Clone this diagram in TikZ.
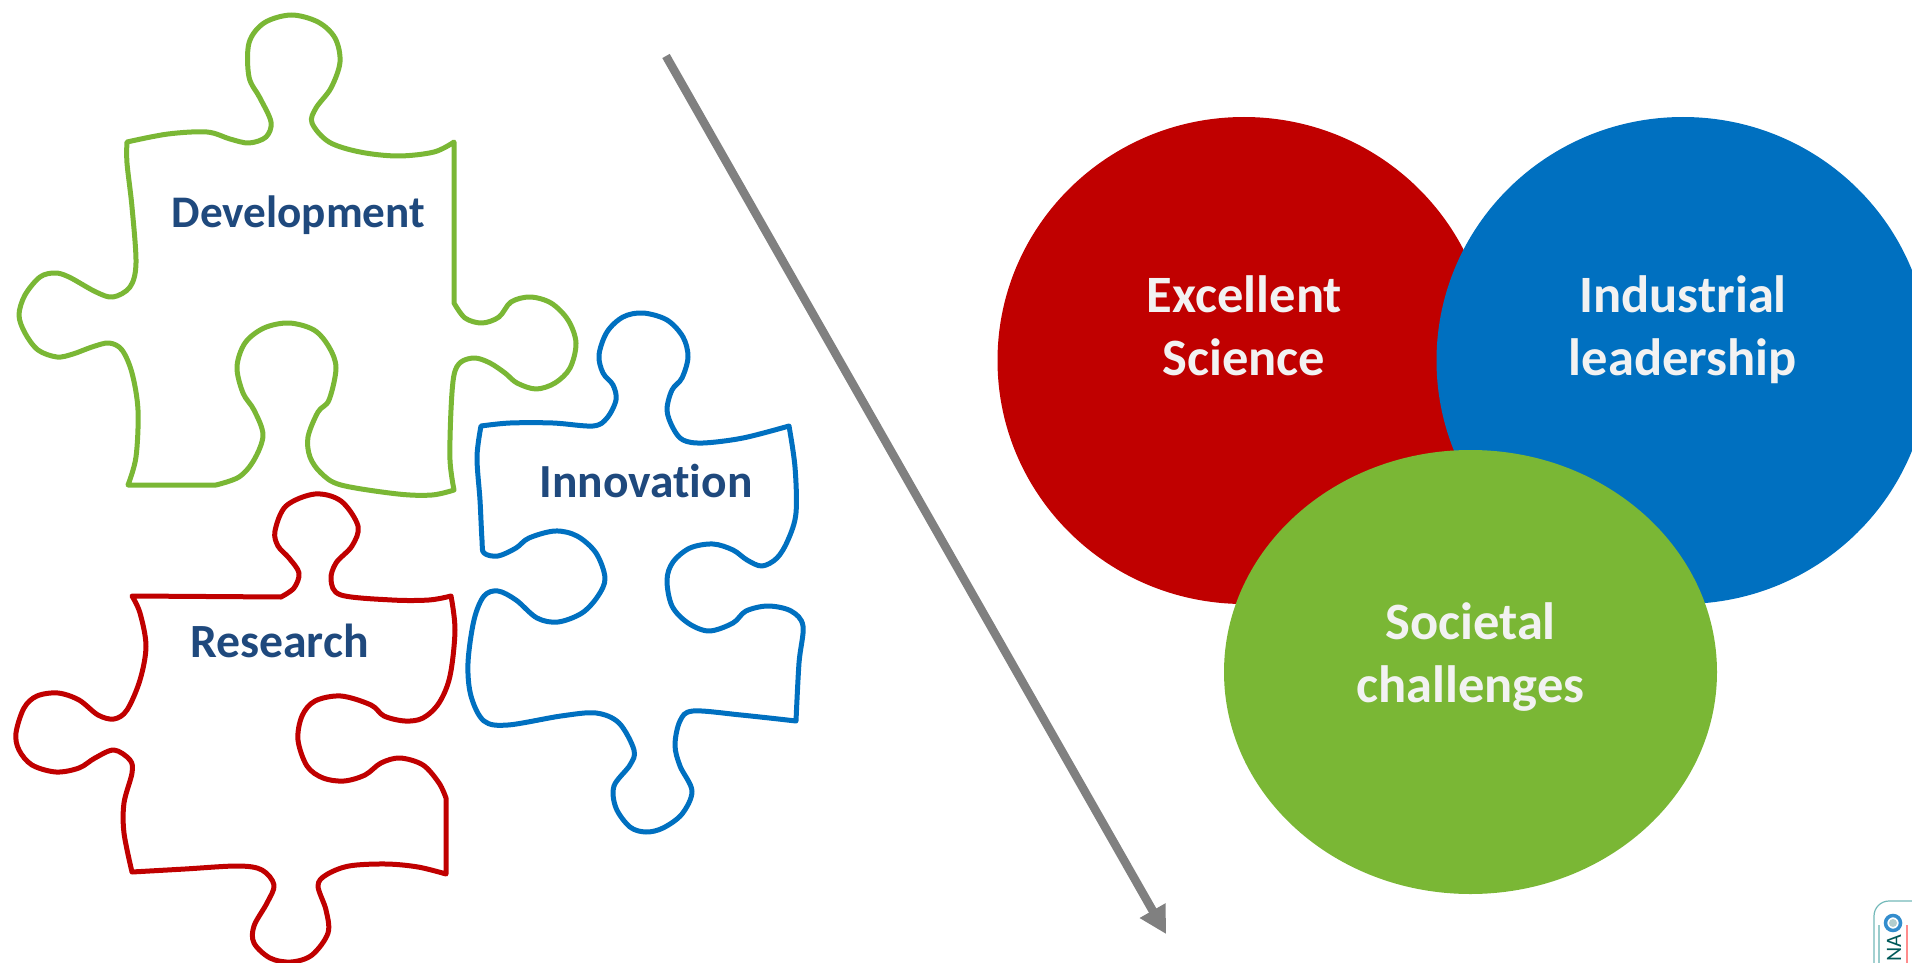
\documentclass[tikz,border=0pt]{standalone}
\usepackage{fontspec}
\setmainfont{Carlito}[Ligatures=NoCommon]
\usetikzlibrary{arrows.meta}
\definecolor{hred}{HTML}{C00000}
\definecolor{hblue}{HTML}{0070C0}
\definecolor{hgreen}{HTML}{7AB735}
\definecolor{navy}{HTML}{1F497D}
\definecolor{offwhite}{HTML}{F2F2F2}
\tikzset{
  piece/.style={line width=5pt,line join=round,line cap=round},
  curvy/.style={smooth,tension=0.55},
  pieceLabel/.style={anchor=base,text=navy,inner sep=0pt,font=\bfseries},
  blobLabel/.style={anchor=base,text=offwhite,inner sep=0pt,font=\fontsize{52.5}{62}\selectfont\bfseries}
}
\begin{document}
\begin{tikzpicture}[x=1pt,y=-1pt]
\useasboundingbox (0,0) rectangle (1912,963);
\clip (0,0) rectangle (1912,963);
% green piece
\draw[piece,hgreen] plot[curvy] coordinates {(127,142) (168,134) (207,132) (230,139) (249,143) (266,137) (271,122) (260,98) (249,77) (249,43) (264,23) (291,15) (318,22) (335,38) (340,62) (331,88) (316,108) (312,123) (329,142) (360,152) (398,156) (434,152) (454,142)}
 -- (454,303) -- plot[curvy] coordinates {(454,303) (465,318) (482,323) (499,317) (511,302) (530,297) (551,303) (568,320) (576,343) (570,368) (555,383) (536,389) (517,383) (505,373) (490,363) (475,358) (461,362) (454,375) (451,410) (450,460) (454,490)}
 -- plot[curvy] coordinates {(454,490) (432,495) (398,494) (341,485) (321,473) (310,457) (308,437) (318,412) (329,400) (336,368) (329,347) (314,330) (289,323) (264,328) (245,343) (237,367) (243,393) (254,410) (263,435) (254,460) (239,477) (216,485)}
 -- (128,485) -- plot[curvy] coordinates {(128,485) (136,457) (138,410) (132,373) (122,350) (109,343) (92,347) (73,354) (57,357) (38,350) (25,333) (19,315) (25,295) (40,277) (55,273) (69,277) (96,292) (113,297) (130,287) (136,263) (132,207) (127,163) (127,142)} -- cycle;
% blue piece
\draw[piece,hblue] plot[curvy] coordinates {(481,426) (510,423) (553,423) (593,426) (607,418) (616,400) (613,385) (603,373) (599,355) (607,332) (623,317) (643,313) (667,320) (683,337) (688,357) (682,378) (672,390) (667,410) (673,428) (683,440) (703,443) (743,438) (789,426)}
 -- plot[curvy] coordinates {(789,426) (795,467) (796,513) (788,540) (777,558) (762,566) (747,560) (733,550) (713,544) (690,548) (673,562) (667,580) (672,606) (688,623) (709,631) (733,623) (746,611) (768,606) (791,611) (803,626) (799,663) (796,721)}
 -- plot[curvy] coordinates {(796,721) (741,715) (693,711) (680,721) (675,745) (680,766) (692,791) (682,814) (663,828) (646,832) (630,827) (616,808) (614,786) (630,765) (634,750) (619,723) (596,713) (561,716) (508,725) (484,721) (471,696) (468,663) (474,620) (484,596) (498,591) (516,600) (537,618) (558,622) (582,613) (598,596) (605,578) (596,553) (577,536) (555,531) (529,538) (516,548) (498,556) (484,553) (482,540) (480,500) (477,457) (481,426)} -- cycle;
% red piece
\draw[piece,hred] (132,596) -- (281,597) -- plot[curvy] coordinates {(281,597) (294,588) (299,573) (289,558) (278,546) (275,531) (286,506) (315,494) (341,501) (358,526) (352,546) (336,563) (331,580) (341,595) (392,600) (429,600) (451,596)}
 -- plot[curvy] coordinates {(451,596) (455,630) (450,676) (439,703) (423,718) (405,721) (384,716) (371,705) (341,696) (315,701) (302,716) (298,740) (307,766) (323,778) (344,781) (365,775) (381,763) (400,758) (423,765) (439,783) (446,798)}
 -- (446,874) -- plot[curvy] coordinates {(446,874) (418,867) (386,864) (349,866) (326,875) (318,886) (326,910) (328,933) (312,955) (291,962) (270,958) (254,943) (254,926) (267,903) (274,885) (262,870) (238,866) (185,869) (132,872)}
 -- plot[curvy] coordinates {(132,872) (124,833) (124,803) (132,773) (130,760) (114,750) (95,758) (79,768) (56,772) (32,765) (19,750) (16,733) (24,708) (37,696) (58,693) (79,700) (98,715) (114,719) (127,710) (140,680) (146,646) (140,613) (132,596)} -- cycle;
% piece labels
\node[pieceLabel] (dev) at (298.5,227) {\fontsize{45.2}{50}\selectfont Development};
\node[pieceLabel] (inn) at (646,497) {\fontsize{47.5}{50}\selectfont Innovation};
\node[pieceLabel] (res) at (279.5,657) {\fontsize{47.7}{50}\selectfont Research};
% arrow
\coordinate (arrowstart) at (666,56);
\coordinate (arrowend) at (1166,934);
\draw[line width=8.5pt,draw=black!50,-{Triangle[length=27pt,width=28pt]}] (arrowstart) -- (arrowend);
% circles
\fill[hred] (1244,360.5) ellipse [x radius=246.5,y radius=243.5];
\fill[hblue] (1683,360.5) ellipse [x radius=246.5,y radius=243.5];
\fill[hgreen] (1470.5,672) ellipse [x radius=246.5,y radius=222];
\node[blobLabel] (exc) at (1244.5,312) {Excellent};
\node[blobLabel] (sci) at (1244,375) {Science};
\node[blobLabel] (ind) at (1683,312) {Industrial};
\node[blobLabel] (lea) at (1683,375) {leadership};
\node[blobLabel] (soc) at (1470.5,639) {Societal};
\node[blobLabel] (cha) at (1470.5,702) {challenges};
% logo, cut off by the page edge
\draw[line width=1.2pt,color=teal!55,rounded corners=15pt] (1874,975) -- (1874,901) -- (1925,901);
\draw[line width=3.5pt,color=hblue!80] (1893,923) circle[radius=7.5];
\fill[teal!70!black!30] (1893,923) circle[radius=4];
\node[rotate=90,text=teal!70!black,inner sep=0pt,font=\fontsize{22}{22}\selectfont] (logo) at (1894,948) {NA};
\draw[line width=1.5pt,color=teal!40] (1879,925) -- (1879,963);
\draw[line width=1.5pt,color=red!45] (1907,925) -- (1907,963);
\end{tikzpicture}
\end{document}
